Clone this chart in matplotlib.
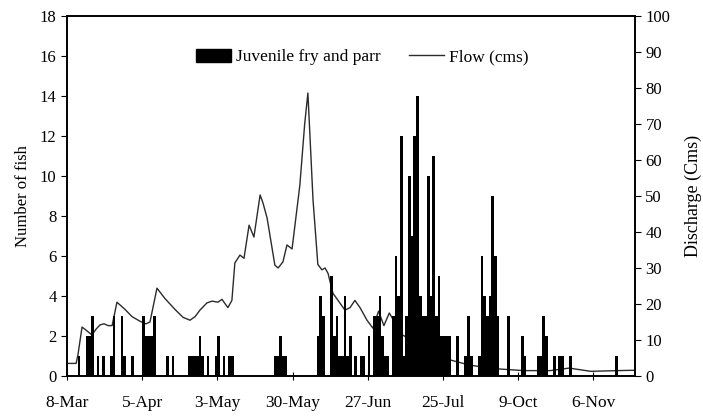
import matplotlib
matplotlib.use("Agg")
import matplotlib.pyplot as plt
import matplotlib.patches as mpatches
from matplotlib.lines import Line2D

plt.rcParams["font.family"] = ["Liberation Serif", "DejaVu Serif"]

# day index counted from 8-Mar (one category per day)
tick_days = [0, 28, 56, 84, 112, 140, 168, 196]
tick_labels = ["8-Mar", "5-Apr", "3-May", "30-May", "27-Jun", "25-Jul", "9-Oct", "6-Nov"]
n_days = 211.5

# juvenile fry and parr counts (only days with catches)
fish_days = [4, 7, 8, 9, 11, 13, 16, 17, 20, 21, 24, 28, 29, 30, 31, 32, 37, 39,
             45, 46, 47, 48, 49, 50, 52, 55, 56, 58, 60, 61,
             77, 78, 79, 80, 81,
             93, 94, 95, 98, 99, 100, 101, 102, 103, 104, 105, 107, 109, 110,
             112, 114, 115, 116, 117, 118, 119, 121, 122, 123, 124, 125, 126, 127,
             128, 129, 130, 131, 132, 133, 134, 135, 136, 137, 138, 139, 140, 141,
             142, 145, 148, 149, 150, 153, 154, 155, 156, 157, 158, 159, 160, 164,
             169, 170, 175, 176, 177, 178, 181, 183, 184, 187, 204]
fish_counts = [1, 2, 2, 3, 1, 1, 1, 3, 3, 1, 1, 3, 2, 2, 2, 3, 1, 1,
               1, 1, 1, 1, 2, 1, 1, 1, 2, 1, 1, 1,
               1, 1, 2, 1, 1,
               2, 4, 3, 5, 2, 3, 1, 1, 4, 1, 2, 1, 1, 1,
               2, 3, 3, 4, 2, 1, 1, 3, 6, 4, 12, 1, 3, 10,
               7, 12, 14, 4, 3, 3, 10, 4, 11, 3, 5, 2, 2, 2,
               2, 2, 1, 3, 1, 1, 6, 4, 3, 4, 9, 6, 3, 3,
               2, 1, 1, 1, 3, 2, 1, 1, 1, 1, 1]

# flow (cms), read at the turning points of the line
flow_days = [0, 3.4, 4.1, 5.6, 7, 9.3, 10.8, 12.3, 13.8, 15.3, 16.8, 18.6, 21.6,
             24.2, 27.2, 29.4, 30.9, 33.5, 36.5, 40.2, 43.2, 45.8, 47.7, 49.5,
             52.1, 54, 56.2, 57.7, 59.9, 61.4, 62.5, 64.4, 65.9, 67.8, 69.6, 71.9,
             73, 74.5, 77.4, 78.6, 80.4, 81.9, 83.8, 86.7, 88.5, 89.7, 91.6, 93.4,
             94.9, 96.1, 97.2, 99, 103.5, 105.4, 107.2, 109.1, 111.7, 113.9, 116,
             118, 120, 122, 125, 130, 135, 140, 145, 150, 155, 160, 170, 180, 187,
             195, 205, 211.5]
flow_cms = [3.5, 3.5, 6, 13.6, 12.8, 11.4, 13, 14.2, 14.5, 14, 14, 20.5, 18.5,
            16.5, 15.2, 14.5, 15, 24.4, 21.5, 18.5, 16.3, 15.5, 16.5, 18.3,
            20.3, 20.8, 20.5, 21.3, 19, 21, 31.4, 33.6, 32.7, 41.9, 38.6, 50.3,
            48, 43.9, 30.8, 30, 31.7, 36.4, 35.3, 53, 70, 78.6, 49, 31,
            29.5, 30, 28.5, 23, 18.3, 19, 21, 19, 15.5, 13.3, 18,
            14, 17.5, 15, 11.4, 9, 7, 5, 4, 3, 2.5, 2, 1.5, 1.5, 2.2,
            1.3, 1.5, 1.6]

fig = plt.figure(figsize=(7.03, 4.17), dpi=100)
ax = fig.add_axes([0.0953, 0.0983, 0.808, 0.8633])
ax2 = ax.twinx()

ax.bar(fish_days, fish_counts, width=1.0, align="edge", color="black",
       edgecolor="none", zorder=3)
ax2.plot(flow_days, flow_cms, color="#2b2b2b", linewidth=1.0)

# bars above the flow line
ax.set_zorder(ax2.get_zorder() + 1)
ax.patch.set_visible(False)

ax.set_xlim(0, n_days)
ax.set_ylim(0, 18)
ax.set_yticks(range(0, 19, 2))
ax2.set_ylim(0, 100)
ax2.set_yticks(range(0, 101, 10))
ax.set_xticks(tick_days)
ax.set_xticklabels(tick_labels)

ax.tick_params(axis="x", direction="inout", length=6, width=0.8, labelsize=12.5, pad=11)
ax.tick_params(axis="y", direction="out", length=4, width=0.8, labelsize=12)
ax2.tick_params(axis="y", direction="out", length=4, width=0.8, labelsize=12)

ax.set_ylabel("Number of fish", fontsize=12, labelpad=6)
ax2.set_ylabel("Discharge (Cms)", fontsize=13, labelpad=10)

for a in (ax, ax2):
    for s in a.spines.values():
        s.set_linewidth(1.2)

handles = [mpatches.Patch(color="black"),
           Line2D([0], [0], color="#2b2b2b", linewidth=1.0)]
ax.legend(handles, ["Juvenile fry and parr", "Flow (cms)"], loc="center",
          bbox_to_anchor=(0.52, 0.886), ncol=2, frameon=False, fontsize=12.5,
          handlelength=2.0, handleheight=0.8, handletextpad=0.3, columnspacing=1.6)

fig.savefig("out.png", dpi=100, facecolor="white")
